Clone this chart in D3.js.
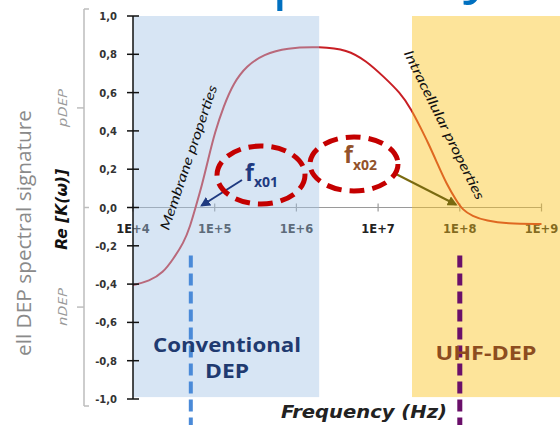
<!DOCTYPE html>
<html>
<head>
<meta charset="utf-8">
<script src="https://cdn.jsdelivr.net/npm/d3@7"></script>
<style>
  html, body { margin: 0; padding: 0; background: #ffffff; }
  svg { display: block; }
</style>
</head>
<body>
<div id="chart"></div>
<script>
// ---------------- data ----------------
const logFreq = [4.00, 4.20, 4.37, 4.49, 4.62, 4.70, 4.77, 4.84, 4.92, 5.00, 5.11, 5.23, 5.39, 5.60, 5.88, 6.29,
                 6.62, 6.86, 7.06, 7.27, 7.41, 7.51, 7.61, 7.72, 7.84, 7.96, 8.03, 8.15, 8.33, 8.57, 9.00];
const reK = [-0.405, -0.385, -0.34, -0.27, -0.185, -0.098, 0.007, 0.11, 0.25, 0.39, 0.53, 0.65, 0.74, 0.80, 0.834, 0.84,
             0.825, 0.764, 0.686, 0.60, 0.51, 0.425, 0.34, 0.235, 0.12, 0.035, -0.01, -0.045, -0.07, -0.085, -0.086];
const yTicks = [1.0, 0.8, 0.6, 0.4, 0.2, 0.0, -0.2, -0.4, -0.6, -0.8, -1.0];
const yTickLabels = ["1,0", "0,8", "0,6", "0,4", "0,2", "0,0", "-0,2", "-0,4", "-0,6", "-0,8", "-1,0"];
const xTicks = [1e4, 1e5, 1e6, 1e7, 1e8, 1e9];
const xTickLabels = ["1E+4", "1E+5", "1E+6", "1E+7", "1E+8", "1E+9"];
const regionNames = ["Conventional DEP", "UHF-DEP"];
const regionFreq = [[1e4, 1.9e6], [2.6e7, 1.7e9]];
const crossFreq = [5.1e4, 1.0e8];           // f_x01, f_x02
const crossNames = ["x01", "x02"];

// ---------------- setup ----------------
const W = 560, H = 425;
const svg = d3.select("#chart").append("svg").attr("width", W).attr("height", H);

const x = d3.scaleLog().domain([1e4, 1e9]).range([133, 541.5]);
const y = d3.scaleLinear().domain([-1, 1]).range([399, 16]);

// title remnants (slide title cut off at top)
const title = svg.append("g").attr("fill", "#0070c0").attr("font-family", "Open Sans, sans-serif").attr("font-size", 62);
title.append("text").attr("x", 272).attr("y", -4).text("p");
title.append("text").attr("x", 463).attr("y", -10).text("y");

// left slide text
svg.append("text")
  .attr("transform", "translate(31,233) rotate(-90)")
  .attr("text-anchor", "middle")
  .attr("font-family", "Open Sans, sans-serif")
  .attr("font-size", 20)
  .attr("fill", "#8a8a8a")
  .attr("textLength", 246).attr("lengthAdjust", "spacingAndGlyphs")
  .text("ell DEP spectral signature");

// secondary gray bracket axis
const g2 = svg.append("g").attr("stroke", "#bdbdbd").attr("stroke-width", 1.5).attr("fill", "none");
g2.append("line").attr("x1", 84).attr("x2", 84).attr("y1", 9).attr("y2", 406);
g2.append("line").attr("x1", 84).attr("x2", 89).attr("y1", 9).attr("y2", 9);
g2.append("line").attr("x1", 84).attr("x2", 89).attr("y1", 406).attr("y2", 406);
g2.append("line").attr("x1", 77).attr("x2", 84).attr("y1", y(0.52)).attr("y2", y(0.52));
g2.append("line").attr("x1", 77).attr("x2", 84).attr("y1", y(-0.52)).attr("y2", y(-0.52));
g2.append("line").attr("x1", 84).attr("x2", 89).attr("y1", y(0)).attr("y2", y(0));

const sideLab = svg.append("g").attr("font-family", "Open Sans, sans-serif").attr("font-style", "italic")
  .attr("font-size", 13).attr("fill", "#9a9a9a").attr("text-anchor", "middle");
sideLab.append("text").attr("transform", `translate(67,${y(0.52)}) rotate(-90)`)
  .attr("textLength", 38).attr("lengthAdjust", "spacingAndGlyphs").text("pDEP");
sideLab.append("text").attr("transform", `translate(67,${y(-0.52)}) rotate(-90)`)
  .attr("textLength", 38).attr("lengthAdjust", "spacingAndGlyphs").text("nDEP");

// y axis title
svg.append("text")
  .attr("transform", `translate(67,${y(-0.01)}) rotate(-90)`)
  .attr("text-anchor", "middle")
  .attr("font-family", "DejaVu Sans, sans-serif")
  .attr("font-weight", "bold").attr("font-style", "italic")
  .attr("font-size", 15.5).attr("fill", "#111")
  .text("Re [K(ω)]");

// x axis (gray line at 0)
const xg = svg.append("g");
xg.append("line").attr("x1", x(1e4)).attr("x2", x(1e9)).attr("y1", y(0)).attr("y2", y(0))
  .attr("stroke", "#9a9a9a").attr("stroke-width", 1.2);
xg.selectAll(".xt").data(xTicks).join("line")
  .attr("x1", d => x(d)).attr("x2", d => x(d))
  .attr("y1", y(0) - 4).attr("y2", y(0) + 4)
  .attr("stroke", "#9a9a9a").attr("stroke-width", 1.2);
xg.selectAll(".xl").data(xTicks).join("text")
  .attr("x", d => x(d)).attr("y", y(0) + 25)
  .attr("text-anchor", "middle")
  .attr("font-family", "DejaVu Sans, sans-serif").attr("font-weight", "bold")
  .attr("font-size", 11.5).attr("fill", "#222")
  .text((d, i) => xTickLabels[i]);

// curve
const line = d3.line()
  .x((d, i) => x(Math.pow(10, logFreq[i])))
  .y((d, i) => y(reK[i]))
  .curve(d3.curveBasis);
svg.append("path").datum(reK).attr("d", line)
  .attr("fill", "none").attr("stroke", "#c81e24").attr("stroke-width", 2);

// shaded regions (semi-transparent overlays)
const regionColors = ["#a6c5e6", "#fac31f"];
svg.selectAll(".reg").data(regionFreq).join("rect")
  .attr("x", d => x(d[0])).attr("width", d => x(d[1]) - x(d[0]))
  .attr("y", y(1)).attr("height", y(-0.99) - y(1))
  .attr("fill", (d, i) => regionColors[i]).attr("fill-opacity", 0.45);

// y axis (black)
const yg = svg.append("g");
yg.append("line").attr("x1", x(1e4)).attr("x2", x(1e4)).attr("y1", y(1)).attr("y2", y(-1))
  .attr("stroke", "#111").attr("stroke-width", 1.5);
yg.selectAll(".yt").data(yTicks).join("line")
  .attr("x1", x(1e4) - 6).attr("x2", x(1e4) + 6)
  .attr("y1", d => y(d)).attr("y2", d => y(d))
  .attr("stroke", "#111").attr("stroke-width", 1.5);
yg.selectAll(".yl").data(yTicks).join("text")
  .attr("x", 117).attr("y", d => y(d) + 4)
  .attr("text-anchor", "end")
  .attr("font-family", "DejaVu Sans, sans-serif").attr("font-weight", "bold")
  .attr("font-size", 10).attr("fill", "#333")
  .text((d, i) => yTickLabels[i]);

// rotated curve annotations
svg.append("text")
  .attr("transform", "translate(193,159) rotate(-71.3)")
  .attr("text-anchor", "middle")
  .attr("font-family", "Lato, sans-serif").attr("font-style", "italic")
  .attr("font-size", 13.5).attr("fill", "#111")
  .attr("textLength", 152).attr("lengthAdjust", "spacingAndGlyphs")
  .text("Membrane properties");
svg.append("text")
  .attr("transform", "translate(440,127) rotate(63.7)")
  .attr("text-anchor", "middle")
  .attr("font-family", "Lato, sans-serif").attr("font-style", "italic")
  .attr("font-size", 13.5).attr("fill", "#111")
  .attr("textLength", 165).attr("lengthAdjust", "spacingAndGlyphs")
  .text("Intracellular properties");

// arrow markers
const defs = svg.append("defs");
[["arrBlue", "#1f3a80"], ["arrOlive", "#7a6a10"]].forEach(([id, c]) => {
  defs.append("marker").attr("id", id).attr("viewBox", "0 0 10 10")
    .attr("refX", 8).attr("refY", 5).attr("markerWidth", 5).attr("markerHeight", 5)
    .attr("orient", "auto")
    .append("path").attr("d", "M0,0 L10,5 L0,10 Z").attr("fill", c);
});

// dashed markers at crossover frequencies
const dashColors = ["#4a8ad8", "#6a0f6a"];
const dashWidths = [4, 5];
svg.selectAll(".vd").data(crossFreq).join("line")
  .attr("x1", d => x(d)).attr("x2", d => x(d))
  .attr("y1", y(-0.25)).attr("y2", H)
  .attr("stroke", (d, i) => dashColors[i]).attr("stroke-width", (d, i) => dashWidths[i])
  .attr("stroke-dasharray", "12 6");

// ellipses + labels + arrows
const ell = [
  { cx: 261, cy: 175, rx: 44, ry: 29, fx: 245, fy: 181, sy: 187, col: "#1f3a80",
    a: [242, 180, x(crossFreq[0]) + 11, y(0) - 2], m: "arrBlue" },
  { cx: 354, cy: 164, rx: 44, ry: 27, fx: 344, fy: 163, sy: 170, col: "#93522a",
    a: [394, 173, x(crossFreq[1]) - 4, y(0) - 3], m: "arrOlive" }
];
ell.forEach((e, i) => {
  svg.append("line").attr("x1", e.a[0]).attr("y1", e.a[1]).attr("x2", e.a[2]).attr("y2", e.a[3])
    .attr("stroke", i === 0 ? "#1f3a80" : "#7a6a10").attr("stroke-width", 2)
    .attr("marker-end", `url(#${e.m})`);
  svg.append("ellipse").attr("cx", e.cx).attr("cy", e.cy).attr("rx", e.rx).attr("ry", e.ry)
    .attr("fill", "none").attr("stroke", "#c40000").attr("stroke-width", 5)
    .attr("stroke-dasharray", "15 8");
  const t = svg.append("text").attr("x", e.fx).attr("y", e.fy)
    .attr("font-family", "Open Sans, sans-serif").attr("font-weight", "bold").attr("fill", e.col);
  t.append("tspan").attr("font-size", 23).text("f");
  t.append("tspan").attr("font-size", 14).attr("dy", e.sy - e.fy).text(crossNames[i]);
});

// region labels
const rl = svg.append("g").attr("font-family", "Open Sans, sans-serif").attr("font-weight", "bold")
  .attr("text-anchor", "middle").attr("font-size", 20);
rl.append("text").attr("x", 227).attr("y", 352).attr("fill", "#1f3a70")
  .attr("textLength", 148).attr("lengthAdjust", "spacingAndGlyphs").text("Conventional");
rl.append("text").attr("x", 227).attr("y", 378).attr("fill", "#1f3a70")
  .attr("textLength", 44).attr("lengthAdjust", "spacingAndGlyphs").text("DEP");
rl.append("text").attr("x", 486).attr("y", 360).attr("fill", "#8d4d1f")
  .attr("textLength", 101).attr("lengthAdjust", "spacingAndGlyphs").text(regionNames[1]);

// x axis title
svg.append("text").attr("x", 364).attr("y", 418)
  .attr("text-anchor", "middle")
  .attr("font-family", "DejaVu Sans, sans-serif").attr("font-weight", "bold").attr("font-style", "italic")
  .attr("font-size", 17.5).attr("fill", "#222")
  .attr("textLength", 166).attr("lengthAdjust", "spacingAndGlyphs")
  .text("Frequency (Hz)");
</script>
</body>
</html>
